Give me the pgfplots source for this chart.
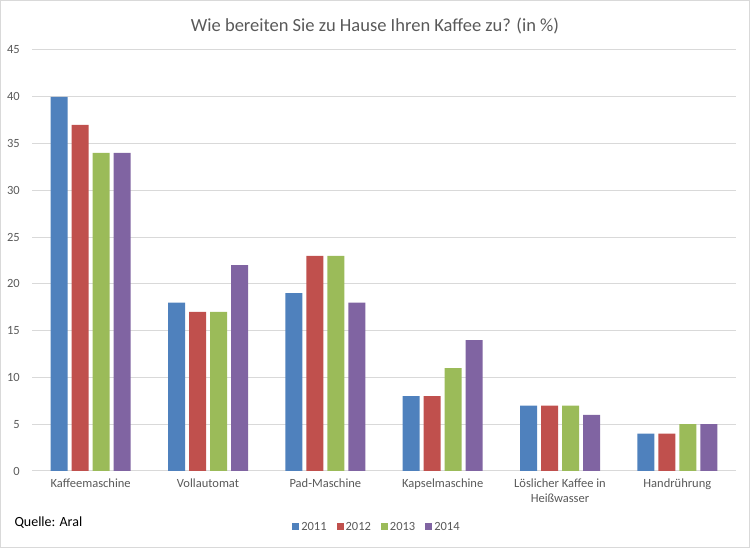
\documentclass[border=0pt]{standalone}
\usepackage{fontspec}
\setmainfont{Carlito}
\usepackage{pgfplots}
\pgfplotsset{compat=1.18}
\definecolor{cA}{HTML}{4F81BD}
\definecolor{cB}{HTML}{C0504D}
\definecolor{cC}{HTML}{9BBB59}
\definecolor{cD}{HTML}{8064A2}
\definecolor{txt}{HTML}{595959}
\definecolor{grd}{HTML}{D9D9D9}
\begin{document}
\begin{tikzpicture}[x=1pt,y=1pt]
\useasboundingbox (0,0) rectangle (750,548);
\draw[grd,line width=1pt] (0.5,0.5) rectangle (749.5,547.5);
\node[text=txt,font=\fontsize{18.5}{22}\selectfont] at (375,522) {Wie bereiten Sie zu Hause Ihren Kaffee zu? (in \%)};
\node[anchor=west,font=\fontsize{14}{16}\selectfont] at (11,25) {Quelle: Aral};
\begin{axis}[
  at={(32pt,77pt)}, anchor=south west,
  scale only axis, width=704pt, height=421pt,
  ybar=4pt, bar width=17pt,
  xmin=-0.5, xmax=5.5, ymin=0, ymax=45,
  ytick={0,5,...,45},
  xtick={0,1,2,3,4,5},
  xticklabels={Kaffeemaschine,Vollautomat,Pad-Maschine,Kapselmaschine,{Löslicher Kaffee in\\Heißwasser},Handrührung},
  xticklabel style={align=center, font=\fontsize{12.5}{15}\selectfont, text=txt, anchor=north, yshift=-4pt},
  yticklabel style={font=\fontsize{12.5}{14}\selectfont, text=txt, anchor=east, inner sep=0pt, xshift=-12pt},
  /pgf/number format/assume math mode=true,
  major tick length=0pt,
  ymajorgrids, grid style={grd, line width=1pt},
  axis line style={draw=none},
  legend style={at={(0.49,-0.133)}, anchor=center, draw=none, legend columns=4,
    font=\fontsize{12.5}{14}\selectfont, text=txt,
    /tikz/every even column/.append style={column sep=8pt}},
  legend image code/.code={\fill[#1,draw=none] (0pt,-3.5pt) rectangle (7pt,3.5pt);},
  clip=false,
]
\draw[grd,line width=1pt] (axis cs:-0.5,0) -- (axis cs:5.5,0);
\addplot[fill=cA,draw=none] coordinates {(0,40) (1,18) (2,19) (3,8) (4,7) (5,4)};
\addplot[fill=cB,draw=none] coordinates {(0,37) (1,17) (2,23) (3,8) (4,7) (5,4)};
\addplot[fill=cC,draw=none] coordinates {(0,34) (1,17) (2,23) (3,11) (4,7) (5,5)};
\addplot[fill=cD,draw=none] coordinates {(0,34) (1,22) (2,18) (3,14) (4,6) (5,5)};
\legend{2011,2012,2013,2014}
\end{axis}
\end{tikzpicture}
\end{document}
